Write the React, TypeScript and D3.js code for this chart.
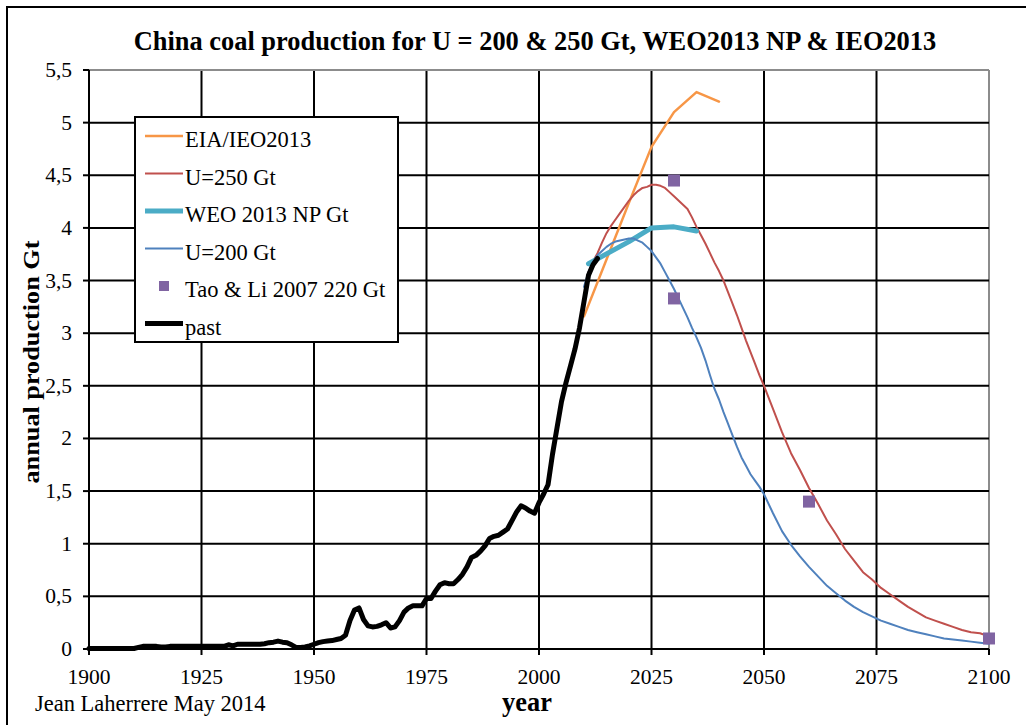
import React from "react";
import * as d3 from "d3";

// past production, one value per year from 1900 to 2013 (Gt)
const pastStart = 1900;
const pastValues = [
  0.005, 0.005, 0.005, 0.005, 0.005, 0.005, 0.005, 0.005, 0.005, 0.005, 0.005,
  0.015,
  0.025, 0.025, 0.025, 0.025, 0.02, 0.02, 0.025, 0.025, 0.025, 0.025, 0.025, 0.025, 0.025, 0.025, 0.025, 0.025, 0.025, 0.025, 0.025,
  0.04, 0.03, 0.045, 0.045, 0.045, 0.045, 0.045, 0.045, 0.05, 0.06,
  0.065, 0.075, 0.065, 0.06, 0.04, 0.015, 0.015, 0.02, 0.03, 0.045,
  0.06, 0.07, 0.075, 0.08, 0.09, 0.1, 0.13, 0.27, 0.37, 0.39,
  0.28, 0.22, 0.21, 0.215, 0.23, 0.25, 0.2, 0.21, 0.27, 0.35,
  0.39, 0.41, 0.41, 0.41, 0.48, 0.48, 0.55, 0.61, 0.63, 0.62,
  0.62, 0.66, 0.71, 0.78, 0.87, 0.89, 0.93, 0.98, 1.05, 1.07,
  1.08, 1.11, 1.14, 1.22, 1.3, 1.36, 1.34, 1.31, 1.29, 1.39,
  1.47, 1.56, 1.85, 2.1, 2.35, 2.53, 2.69, 2.85, 3.05, 3.3,
  3.55, 3.65, 3.71,
];

const eiaYears = [2010, 2020, 2025, 2030, 2035, 2040];
const eiaValues = [3.16, 4.24, 4.77, 5.1, 5.29, 5.2];

const u250Years = [
  2011, 2012, 2013, 2014, 2015, 2016, 2017, 2018, 2019, 2020,
  2021, 2022, 2023, 2024, 2025, 2026, 2027, 2028, 2029, 2030,
  2031, 2032, 2033, 2034, 2035, 2036, 2037, 2038, 2039, 2040,
  2041, 2042, 2043, 2044, 2045, 2046, 2047, 2048, 2049, 2050,
  2052, 2054, 2056, 2058, 2060, 2062, 2064, 2066, 2068, 2070,
  2072, 2074, 2076, 2078, 2080, 2082, 2084, 2086, 2088, 2090,
  2092, 2094, 2096, 2098, 2100,
];
const u250Values = [
  3.58, 3.68, 3.76, 3.86, 3.95, 4.02, 4.08, 4.14, 4.2, 4.26,
  4.31, 4.35, 4.38, 4.39, 4.41, 4.41, 4.4, 4.38, 4.34, 4.3,
  4.26, 4.22, 4.18, 4.1, 4.01, 3.93, 3.85, 3.76, 3.67, 3.59,
  3.5, 3.39, 3.28, 3.17, 3.05, 2.93, 2.82, 2.71, 2.6, 2.5,
  2.28, 2.06, 1.86, 1.7, 1.53, 1.38, 1.22, 1.09, 0.95, 0.84,
  0.73, 0.66, 0.58, 0.52, 0.46, 0.4, 0.35, 0.3, 0.27, 0.24,
  0.21, 0.18, 0.16, 0.15, 0.12,
];

const weoYears = [2011, 2020, 2025, 2030, 2035];
const weoValues = [3.66, 3.87, 4.0, 4.01, 3.97];

const u200Years = [
  2010, 2011, 2012, 2013, 2014, 2015, 2016, 2017, 2018, 2019,
  2020, 2021, 2022, 2023, 2024, 2025, 2026, 2027, 2028, 2029,
  2030, 2031, 2032, 2033, 2034, 2035, 2036, 2037, 2038, 2039,
  2040, 2041, 2042, 2043, 2044, 2045, 2046, 2047, 2048, 2049,
  2050, 2052, 2054, 2056, 2058, 2060, 2062, 2064, 2066, 2068,
  2070, 2072, 2074, 2076, 2078, 2080, 2082, 2084, 2086, 2088,
  2090, 2092, 2094, 2096, 2098, 2100,
];
const u200Values = [
  3.44, 3.58, 3.68, 3.74, 3.78, 3.82, 3.85, 3.87, 3.88, 3.89,
  3.9, 3.9, 3.88, 3.86, 3.82, 3.78, 3.72, 3.66, 3.58, 3.5,
  3.42, 3.33, 3.24, 3.15, 3.05, 2.96, 2.86, 2.74, 2.6, 2.47,
  2.37, 2.25, 2.14, 2.03, 1.92, 1.82, 1.74, 1.66, 1.6, 1.54,
  1.47, 1.29, 1.12, 0.99, 0.88, 0.78, 0.69, 0.6, 0.53, 0.46,
  0.4, 0.35, 0.31, 0.27, 0.24, 0.21, 0.18, 0.16, 0.14, 0.12,
  0.1, 0.09, 0.08, 0.07, 0.06, 0.05,
];

const taoYears = [2030, 2030, 2060, 2100];
const taoValues = [4.45, 3.33, 1.4, 0.1];

const xTicks = [1900, 1925, 1950, 1975, 2000, 2025, 2050, 2075, 2100];
const yTicks = [0, 0.5, 1, 1.5, 2, 2.5, 3, 3.5, 4, 4.5, 5, 5.5];

const legendLabels = ["EIA/IEO2013", "U=250 Gt", "WEO 2013 NP Gt", "U=200 Gt", "Tao & Li 2007 220 Gt", "past"];

const W = 1026;
const H = 725;
const left = 89, right = 989, top = 70, bottom = 649;
const font = "'Liberation Serif', 'Times New Roman', serif";

const x = d3.scaleLinear().domain([1900, 2100]).range([left, right]);
const y = d3.scaleLinear().domain([0, 5.5]).range([bottom, top]);

const line = d3.line<[number, number]>()
  .x(d => x(d[0]))
  .y(d => y(d[1]));

const zip = (ys: number[], vs: number[]): [number, number][] => ys.map((yr, i) => [yr, vs[i]]);

const fmt = (d: number) => String(d).replace(".", ",");

const App = () => {
  const past: [number, number][] = pastValues.map((v, i) => [pastStart + i, v]);

  const series = [
    { name: legendLabels[0], data: zip(eiaYears, eiaValues), color: "#f79646", width: 2.5 },
    { name: legendLabels[1], data: zip(u250Years, u250Values), color: "#c0504d", width: 2 },
    { name: legendLabels[2], data: zip(weoYears, weoValues), color: "#4bacc6", width: 5 },
    { name: legendLabels[3], data: zip(u200Years, u200Values), color: "#4f81bd", width: 2 },
  ];
  const tao = zip(taoYears, taoValues);

  const legendRows = [
    { label: legendLabels[0], color: "#f79646", width: 2.5, kind: "line" },
    { label: legendLabels[1], color: "#c0504d", width: 2, kind: "line" },
    { label: legendLabels[2], color: "#4bacc6", width: 5, kind: "line" },
    { label: legendLabels[3], color: "#4f81bd", width: 2, kind: "line" },
    { label: legendLabels[4], color: "#8064a2", width: 0, kind: "square" },
    { label: legendLabels[5], color: "#000", width: 5, kind: "line" },
  ];

  return (
    <svg width={W} height={H} style={{ position: "absolute", left: 0, top: 0, background: "#fff" }}
      fontFamily={font}>
      <rect x={7} y={7} width={W + 10} height={H + 10} fill="#fff" stroke="#000" strokeWidth={2} />

      <text x={535} y={50} textAnchor="middle" fontSize={26.4} fontWeight="bold">
        China coal production for U = 200 &amp; 250 Gt, WEO2013 NP &amp; IEO2013
      </text>

      {/* grid */}
      {xTicks.filter(t => t > 1900).map(t => (
        <line key={"gx" + t} x1={x(t)} x2={x(t)} y1={top} y2={bottom}
          stroke={t === 2100 ? "#8c8c8c" : "#000"} strokeWidth={2} />
      ))}
      {yTicks.filter(t => t > 0).map(t => (
        <line key={"gy" + t} x1={left} x2={right} y1={y(t)} y2={y(t)}
          stroke={t === 5.5 ? "#8c8c8c" : "#000"} strokeWidth={2} />
      ))}

      {/* axes */}
      <line x1={left} x2={left} y1={top} y2={bottom} stroke="#000" strokeWidth={2} />
      <line x1={left} x2={right} y1={bottom} y2={bottom} stroke="#000" strokeWidth={2} />
      {yTicks.map(t => (
        <g key={"ty" + t}>
          <line x1={left - 6} x2={left} y1={y(t)} y2={y(t)} stroke="#000" strokeWidth={2} />
          <text x={left - 17} y={y(t) + 7} textAnchor="end" fontSize={21.5}>{fmt(t)}</text>
        </g>
      ))}
      {xTicks.map(t => (
        <g key={"tx" + t}>
          <line x1={x(t)} x2={x(t)} y1={bottom} y2={bottom + 6} stroke="#000" strokeWidth={2} />
          <text x={x(t)} y={684} textAnchor="middle" fontSize={21.5}>{t}</text>
        </g>
      ))}

      <text x={527} y={711} textAnchor="middle" fontSize={26.4} fontWeight="bold">year</text>
      <text x={35} y={711} fontSize={22.5}>Jean Laherrere May 2014</text>
      <text transform={`translate(39,${362}) rotate(-90)`} textAnchor="middle" fontSize={23} fontWeight="bold"
        textLength={243} lengthAdjust="spacingAndGlyphs">
        annual production Gt
      </text>

      {/* series */}
      {series.map(s => (
        <path key={s.name} d={line(s.data) ?? ""} fill="none" stroke={s.color}
          strokeWidth={s.width} strokeLinejoin="round" strokeLinecap="round" />
      ))}
      {tao.map((d, i) => (
        <rect key={"tao" + i} x={x(d[0]) - 6} y={y(d[1]) - 6} width={12} height={12} fill="#8064a2" />
      ))}
      <path d={line(past) ?? ""} fill="none" stroke="#000" strokeWidth={5}
        strokeLinejoin="round" strokeLinecap="round" />

      {/* legend */}
      <rect x={135} y={117} width={263} height={225} fill="#fff" stroke="#000" strokeWidth={2} />
      {legendRows.map((r, i) => {
        const cy = 136 + i * 37.5;
        return (
          <g key={r.label}>
            {r.kind === "line"
              ? <line x1={145} x2={183} y1={cy} y2={cy} stroke={r.color} strokeWidth={r.width} />
              : <rect x={159} y={cy - 5} width={10} height={10} fill={r.color} />}
            <text x={185} y={cy + 11} fontSize={22.5}>{r.label}</text>
          </g>
        );
      })}
    </svg>
  );
};

export default App;
